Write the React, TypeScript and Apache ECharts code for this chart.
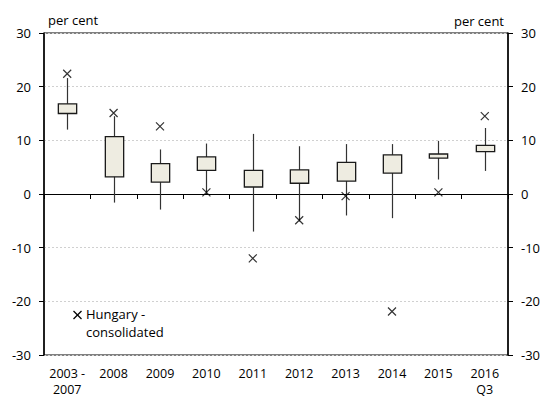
import React, { useEffect, useRef } from "react";
import * as echarts from "echarts";

const categories = ["2003 -\n2007", "2008", "2009", "2010", "2011", "2012", "2013", "2014", "2015", "2016\nQ3"];
const whiskerLow = [12.0, -1.6, -2.9, 0.0, -7.0, -5.1, -4.0, -4.5, 2.7, 4.3];
const boxLow = [15.0, 3.2, 2.2, 4.4, 1.3, 2.0, 2.4, 3.9, 6.7, 7.9];
const boxHigh = [16.8, 10.7, 5.65, 6.9, 4.4, 4.5, 5.9, 7.3, 7.45, 9.05];
const whiskerHigh = [21.6, 14.5, 8.3, 9.4, 11.2, 8.9, 9.3, 9.3, 9.9, 12.3];
const hungary = [22.4, 15.1, 12.6, 0.3, -12.0, -4.9, -0.4, -21.9, 0.3, 14.5];
const yTicks = { min: -30, max: 30, interval: 10 };
const unitLabel = "per cent";
const legendLabel = "Hungary -\nconsolidated";

const FONT = "'Open Sans', 'Noto Sans', sans-serif";
const FS = 13;

export default function App() {
  const ref = useRef<HTMLDivElement>(null);
  useEffect(() => {
    if (!ref.current) return;
    const chart = echarts.init(ref.current, undefined, { renderer: "svg" });
    const boxData = categories.map((_, i) => [i, whiskerLow[i], boxLow[i], boxHigh[i], whiskerHigh[i]]);
    const scatterData = categories.map((_, i) => [i, hungary[i]]);
    const yAxisBase = {
      type: "value",
      min: yTicks.min,
      max: yTicks.max,
      interval: yTicks.interval,
      axisLine: { show: true, lineStyle: { color: "#000", width: 1.5 } },
      axisTick: { show: true, length: 5, lineStyle: { color: "#000" } },
      axisLabel: { color: "#000", fontSize: FS, fontFamily: FONT, margin: 13 },
      splitLine: { show: true, lineStyle: { color: "#d0d0d0", type: [2, 2], width: 1 } },
    };
    chart.setOption({
      animation: false,
      backgroundColor: "#fff",
      grid: {
        left: 44, right: 36, top: 33, bottom: 44,
        outerBoundsMode: "none",
        containLabel: false,
        show: true, borderColor: "#000", borderWidth: 1, backgroundColor: "transparent",
      },
      xAxis: [
        {
          type: "category",
          data: categories,
          boundaryGap: true,
          axisLine: { show: true, onZero: true, lineStyle: { color: "#000", width: 1 } },
          axisTick: { show: true, length: 5, inside: false, lineStyle: { color: "#000" } },
          axisLabel: { show: false },
          splitLine: { show: false },
        },
        {
          type: "category",
          data: categories,
          position: "bottom",
          boundaryGap: true,
          axisLine: { show: false, onZero: false },
          axisTick: { show: false },
          axisLabel: { color: "#000", fontSize: 12.5, fontFamily: FONT, margin: 10, lineHeight: 16.5, interval: 0 },
        },
      ],
      yAxis: [
        { ...yAxisBase, position: "left" },
        { ...yAxisBase, position: "right", splitLine: { show: false } },
      ],
      graphic: [
        { type: "text", left: 48, top: 13, style: { text: unitLabel, fill: "#000", font: `${FS}px ${FONT}` } },
        { type: "text", right: 40, top: 14, style: { text: unitLabel, fill: "#000", font: `${FS}px ${FONT}` } },
        { type: "line", shape: { x1: 73.5, y1: 311, x2: 81.5, y2: 319 }, style: { stroke: "#000", lineWidth: 1.2 } },
        { type: "line", shape: { x1: 81.5, y1: 311, x2: 73.5, y2: 319 }, style: { stroke: "#000", lineWidth: 1.2 } },
        { type: "text", left: 86, top: 305, style: { text: legendLabel, fill: "#000", font: `${FS}px ${FONT}`, lineHeight: 18 } },
      ],
      series: [
        {
          type: "custom",
          xAxisIndex: 0,
          yAxisIndex: 0,
          data: boxData,
          encode: { x: 0, y: [1, 2, 3, 4] },
          renderItem: (params: any, api: any) => {
            const x = api.value(0);
            const lo = api.coord([x, api.value(1)]);
            const q1 = api.coord([x, api.value(2)]);
            const q3 = api.coord([x, api.value(3)]);
            const hi = api.coord([x, api.value(4)]);
            const w = api.size([1, 0])[0] * 0.395;
            const cx = Math.round(lo[0]) + 0.5;
            return {
              type: "group",
              children: [
                { type: "line", shape: { x1: cx, y1: hi[1], x2: cx, y2: lo[1] }, style: { stroke: "#333", lineWidth: 1.2 } },
                {
                  type: "rect",
                  shape: { x: cx - w / 2, y: q3[1], width: w, height: q1[1] - q3[1] },
                  style: { fill: "#eeece1", stroke: "#1a1a1a", lineWidth: 1.3 },
                },
              ],
            };
          },
          z: 3,
        },
        {
          type: "scatter",
          xAxisIndex: 0,
          yAxisIndex: 0,
          data: scatterData,
          symbol: "path://M0,0L10,10M10,0L0,10",
          symbolSize: 8,
          itemStyle: { color: "none", borderColor: "#000", borderWidth: 1.2 },
          z: 4,
        },
      ],
    });
    return () => chart.dispose();
  }, []);
  return <div ref={ref} style={{ width: 544, height: 399, position: "absolute", left: 0, top: 0 }} />;
}
